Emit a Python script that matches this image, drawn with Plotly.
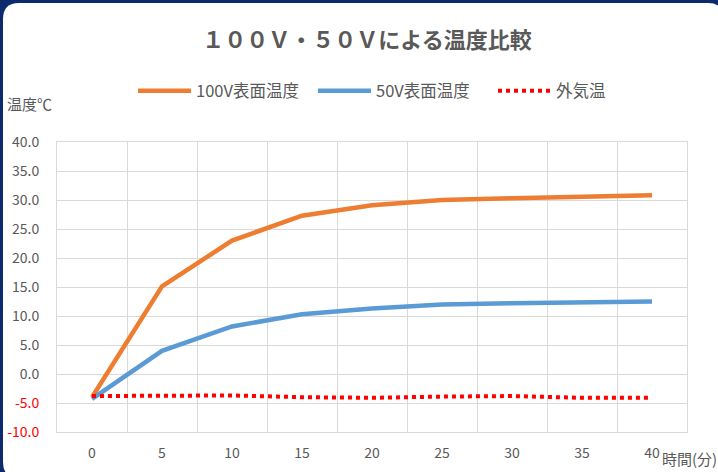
import plotly.graph_objects as go

time_min = [0, 5, 10, 15, 20, 25, 30, 35, 40]
temp_100v = [-4.0, 15.1, 23.0, 27.3, 29.1, 30.0, 30.3, 30.6, 30.8]
temp_50v = [-4.3, 4.0, 8.2, 10.3, 11.3, 12.0, 12.2, 12.4, 12.5]
temp_outside = [-3.8, -3.7, -3.7, -4.0, -4.1, -3.9, -3.8, -4.1, -4.1]
y_ticks = [-10, -5, 0, 5, 10, 15, 20, 25, 30, 35, 40]

W, H = 718, 472
L, R, T, B = 57, 687, 142, 432

def px_x(p):
    return (p - L) / (R - L)

def px_y(p):
    return (B - p) / (B - T)

def fmt(v):
    s = f"{v:.1f}"
    return f"<span style='color:#FF0000'>{s}</span>" if v < 0 else s

fig = go.Figure()
fig.add_trace(go.Scatter(x=time_min, y=temp_100v, mode="lines", name="100V表面温度",
                         line=dict(color="#ED7D31", width=4.5)))
fig.add_trace(go.Scatter(x=time_min, y=temp_50v, mode="lines", name="50V表面温度",
                         line=dict(color="#5B9BD5", width=4.5)))
fig.add_trace(go.Scatter(x=time_min, y=temp_outside, mode="lines", name="外気温",
                         line=dict(color="#FF0000", width=4, dash="dot")))

# rounded white panel over navy background
x0, y0, x1, y1, r = 3, 3, 724, 478, 16
pts = [
    ("M", x0 + r, y0), ("L", x1 - r, y0), ("Q", x1, y0, x1, y0 + r),
    ("L", x1, y1 - r), ("Q", x1, y1, x1 - r, y1), ("L", x0 + r, y1),
    ("Q", x0, y1, x0, y1 - r), ("L", x0, y0 + r), ("Q", x0, y0, x0 + r, y0),
]
path = ""
for p in pts:
    cmd = p[0]
    coords = p[1:]
    parts = []
    for i in range(0, len(coords), 2):
        parts.append(f"{px_x(coords[i]):.5f},{px_y(coords[i+1]):.5f}")
    path += cmd + " " + " ".join(parts) + " "
path += "Z"

font_family = "Noto Sans CJK JP, Noto Sans, sans-serif"
grey = "#595959"
grid = "#D9D9D9"

fig.update_layout(
    width=W, height=H,
    margin=dict(l=L, r=W - R, t=T, b=H - B, autoexpand=False),
    paper_bgcolor="#0B2B6E",
    plot_bgcolor="white",
    font=dict(family=font_family, color=grey, size=14),
    shapes=[dict(type="path", path=path, xref="paper", yref="paper",
                 fillcolor="white", line=dict(width=0), layer="below")],
    title=dict(text="<b>１００Ｖ・５０Ｖによる温度比較</b>", x=367 / W, xanchor="center",
               y=1 - 40 / H, yanchor="middle",
               font=dict(size=22, color=grey, family=font_family)),
    legend=dict(orientation="h", x=px_x(133), xanchor="left", y=px_y(91), yanchor="middle",
                font=dict(size=16.5, color=grey), bgcolor="rgba(0,0,0,0)",
                itemwidth=53, entrywidth=112, entrywidthmode="pixels", tracegroupgap=0),
    xaxis=dict(range=[-2.5, 42.5], tickvals=time_min, ticktext=[str(t) for t in time_min],
               showgrid=False, zeroline=False, showline=True, mirror=True, automargin=False,
               linecolor=grid, linewidth=1, ticks="", ticklabelstandoff=8,
               tickfont=dict(size=14, color=grey),
               minor=dict(tick0=2.5, dtick=5, showgrid=True, gridcolor=grid, gridwidth=1, ticks="")),
    yaxis=dict(range=[-10, 40], tickvals=y_ticks, ticktext=[fmt(v) for v in y_ticks],
               showgrid=True, gridcolor=grid, gridwidth=1, zeroline=False, automargin=False,
               showline=True, mirror=True, linecolor=grid, linewidth=1, ticks="",
               ticklabelstandoff=14, tickfont=dict(size=14, color=grey)),
    annotations=[
        dict(text="温度℃", xref="paper", yref="paper", x=px_x(5), y=px_y(103),
             xanchor="left", yanchor="middle", showarrow=False, font=dict(size=15, color=grey)),
        dict(text="時間(分)", xref="paper", yref="paper", x=px_x(660), y=px_y(458),
             xanchor="left", yanchor="middle", showarrow=False, font=dict(size=15, color=grey)),
    ],
)

fig.write_html("out.html", config={"displayModeBar": False},
               post_script="document.body.style.margin='0';document.body.style.padding='0';"
                           "document.body.style.overflow='hidden';")
